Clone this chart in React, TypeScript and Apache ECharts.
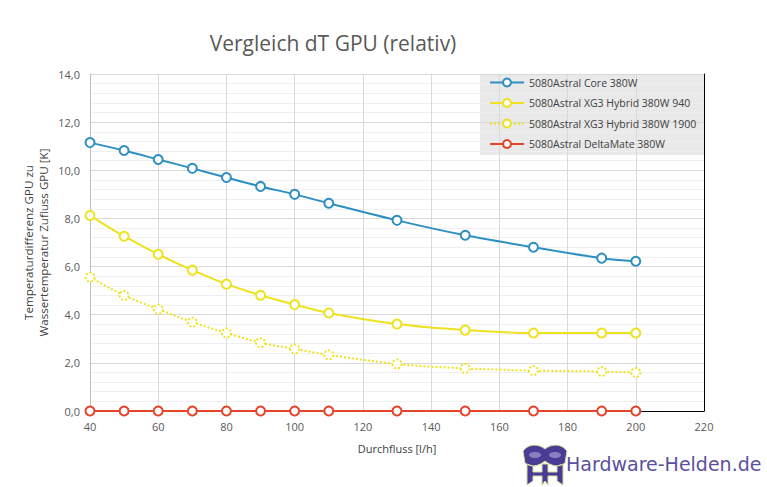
import React, { useEffect, useRef } from "react";
import * as echarts from "echarts";

const flow = [40, 50, 60, 70, 80, 90, 100, 110, 130, 150, 170, 190, 200];
const seriesNames = [
  "5080Astral Core 380W",
  "5080Astral XG3 Hybrid 380W 940",
  "5080Astral XG3 Hybrid 380W 1900",
  "5080Astral DeltaMate 380W",
];
const coreValues = [11.15, 10.82, 10.45, 10.08, 9.7, 9.33, 9.0, 8.63, 7.92, 7.3, 6.8, 6.35, 6.22];
const xg3Values940 = [8.12, 7.26, 6.51, 5.85, 5.27, 4.81, 4.42, 4.07, 3.61, 3.36, 3.24, 3.24, 3.24];
const xg3Values1900 = [5.56, 4.8, 4.23, 3.69, 3.24, 2.84, 2.58, 2.33, 1.95, 1.77, 1.68, 1.64, 1.6];
const deltaMateValues = [0, 0, 0, 0, 0, 0, 0, 0, 0, 0, 0, 0, 0];
const colors = ["#2e8fc2", "#eee21e", "#eee21e", "#e6432b"];

const maskPath =
  "M0 8 C6 0 16 1 22 6 C28 1 38 0 44 8 L42 20 C36 25 28 23 22 18 C16 23 8 25 2 20 Z " +
  "M4 21 L10 23 L10 29 L19 29 L19 21 L25 21 L25 29 L34 29 L34 23 L40 21 L40 42 L34 38 L34 33 L25 33 L25 42 L22 38 L19 42 L19 33 L10 33 L10 38 L4 42 Z";

let registered = false;

export default function App() {
  const ref = useRef<HTMLDivElement>(null);
  useEffect(() => {
    document.body.style.margin = "0";
    if (!registered) {
      echarts.graphic.registerShape("logo", echarts.graphic.extendPath(maskPath, {}) as any);
      registered = true;
    }
    const chart = echarts.init(ref.current!, null, { renderer: "svg" });
    const allValues = [coreValues, xg3Values940, xg3Values1900, deltaMateValues];
    const font = "Open Sans";
    chart.setOption({
      animation: false,
      backgroundColor: "#ffffff",
      grid: { left: 90, right: 63, top: 74, bottom: 76, containLabel: false },
      legend: {
        orient: "vertical",
        left: 489,
        top: 77,
        itemWidth: 34,
        itemHeight: 10,
        itemGap: 9.5,
        padding: 0,
        textStyle: { fontFamily: font, fontSize: 10.5, color: "#404040" },
        data: seriesNames,
      },
      xAxis: [
        {
          type: "value",
          min: 40,
          max: 220,
          interval: 20,
          name: "Durchfluss [l/h]",
          nameLocation: "middle",
          nameGap: 32,
          nameMoveOverlap: false,
          nameTextStyle: { fontFamily: font, fontSize: 11, color: "#404040" },
          axisLine: { show: true, lineStyle: { color: "#bfbfbf" } },
          axisTick: { show: false },
          axisLabel: { fontFamily: font, fontSize: 11, color: "#595959", margin: 10 },
          splitLine: { show: true, lineStyle: { color: "#d9d9d9" } },
        },
        {
          type: "value",
          position: "top",
          min: 40,
          max: 220,
          axisLine: { show: true, lineStyle: { color: "#000000", width: 1 } },
          axisTick: { show: false },
          axisLabel: { show: false },
          splitLine: { show: false },
        },
      ],
      yAxis: [
        {
          type: "value",
          min: 0,
          max: 14,
          interval: 2,
          name: "Temperaturdifferenz GPU zu\nWassertemperatur Zufluss GPU [K]",
          nameLocation: "middle",
          nameGap: 39,
          nameMoveOverlap: false,
          nameTextStyle: { fontFamily: font, fontSize: 11.6, color: "#404040", lineHeight: 15 },
          axisLine: { show: true, lineStyle: { color: "#bfbfbf" } },
          axisTick: { show: false },
          axisLabel: {
            fontFamily: font,
            fontSize: 11,
            color: "#595959",
            margin: 10,
            formatter: (v: number) => v.toFixed(1).replace(".", ","),
          },
          splitLine: { show: true, lineStyle: { color: "#d9d9d9" } },
          minorTick: { show: false, splitNumber: 5 },
          minorSplitLine: { show: true, lineStyle: { color: "#efefef" } },
        },
        {
          type: "value",
          position: "right",
          min: 0,
          max: 14,
          axisLine: { show: true, lineStyle: { color: "#000000", width: 1 } },
          axisTick: { show: false },
          axisLabel: { show: false },
          splitLine: { show: false },
        },
      ],
      graphic: [
        {
          type: "text",
          x: 333,
          y: 43,
          style: {
            text: "Vergleich dT GPU (relativ)",
            fontFamily: font,
            fontSize: 21,
            fill: "#595959",
            textAlign: "center",
            verticalAlign: "middle",
          },
        },
        {
          type: "rect",
          left: 480,
          top: 74,
          shape: { width: 224, height: 81 },
          style: { fill: "#e9e9e9" },
          z: 0,
          silent: true,
        },
        {
          type: "group",
          x: 523,
          y: 443,
          children: [
            {
              type: "logo",
              x: 0,
              y: 0,
              scaleX: 1,
              scaleY: 1,
              style: { fill: "#4a3b94", stroke: "#d4df9a", lineWidth: 1 },
            },
            { type: "ellipse", shape: { cx: 12, cy: 12, rx: 6, ry: 3 }, style: { fill: "#8a7fc0" } },
            { type: "ellipse", shape: { cx: 32, cy: 12, rx: 6, ry: 3 }, style: { fill: "#8a7fc0" } },
          ],
        },
        {
          type: "text",
          x: 566,
          y: 464,
          style: {
            text: "Hardware-Helden.de",
            fontFamily: "DejaVu Sans",
            fontSize: 19,
            fill: "#5b4fa0",
            verticalAlign: "middle",
            textAlign: "left",
          },
        },
      ],
      series: seriesNames.map((name, i) => ({
        name,
        type: "line",
        smooth: 0.3,
        data: flow.map((x, j) => [x, allValues[i][j]]),
        symbol: "emptyCircle",
        symbolSize: 9,
        color: colors[i],
        lineStyle: { width: 2, color: colors[i], type: i === 2 ? "dotted" : "solid" },
        itemStyle: {
          color: colors[i],
          borderColor: colors[i],
          borderWidth: 2,
          borderType: i === 2 ? "dotted" : "solid",
        },
        z: 10 - i,
      })),
    });
    return () => chart.dispose();
  }, []);
  return <div ref={ref} style={{ width: 767, height: 487 }} />;
}
